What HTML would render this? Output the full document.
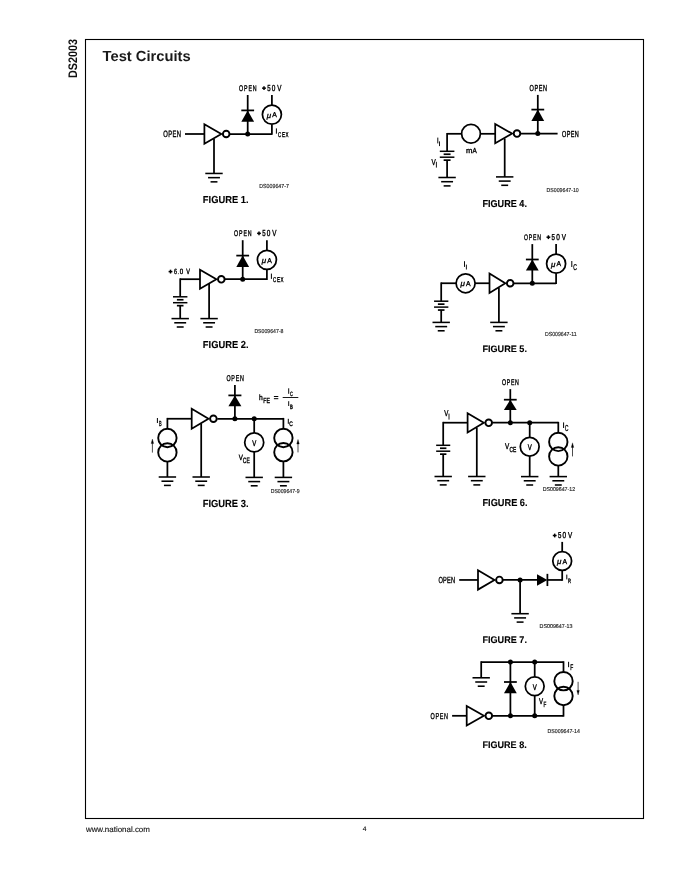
<!DOCTYPE html>
<html><head><meta charset="utf-8"><style>
html,body{margin:0;padding:0;background:#fff;}
svg{display:block;filter:grayscale(100%);}
text{font-family:"Liberation Sans",sans-serif;text-rendering:geometricPrecision;}
</style></head><body>
<svg width="680" height="880" viewBox="0 0 680 880" stroke="#000" fill="none">
<rect x="85.5" y="39.5" width="558" height="779" stroke-width="1.1"/>
<text x="0" y="0" transform="translate(76.5,78.0) rotate(-90)" font-size="12.4" font-weight="bold" fill="#111" stroke="none" textLength="39.0" lengthAdjust="spacingAndGlyphs">DS2003</text>
<text x="102.6" y="60.9" font-size="14.6" font-weight="bold" fill="#1a1a1a" stroke="none" textLength="88.1" lengthAdjust="spacingAndGlyphs">Test Circuits</text>
<text x="85.9" y="832.1" font-size="7.9" fill="#111" stroke="#111" stroke-width="0.12" textLength="64" lengthAdjust="spacingAndGlyphs">www.national.com</text>
<text x="362.8" y="831.0" font-size="6.6" fill="#111" stroke="#111" stroke-width="0.15">4</text>
<text transform="translate(163.19,136.81) scale(0.64,1)" x="0" y="0" font-size="9.16" font-weight="normal" fill="#000" textLength="27.84" lengthAdjust="spacing" stroke="#000" stroke-width="0.38">OPEN</text>
<line x1="185.00" y1="134.00" x2="204.40" y2="134.00" stroke-width="1.75"/>
<polygon points="204.40,124.35 221.30,134.00 204.40,143.65" stroke-width="1.75" stroke-linejoin="miter"/>
<circle cx="226.20" cy="134.00" r="3.30" fill="none" stroke-width="1.9"/>
<line x1="214.00" y1="139.00" x2="214.00" y2="173.45" stroke-width="1.75"/>
<line x1="205.30" y1="173.45" x2="222.70" y2="173.45" stroke-width="1.55"/>
<line x1="208.05" y1="177.65" x2="219.95" y2="177.65" stroke-width="1.55"/>
<line x1="210.55" y1="181.85" x2="217.45" y2="181.85" stroke-width="1.55"/>
<line x1="229.60" y1="134.00" x2="271.90" y2="134.00" stroke-width="1.75"/>
<line x1="271.90" y1="134.85" x2="271.90" y2="124.60" stroke-width="1.75"/>
<line x1="247.70" y1="95.00" x2="247.70" y2="134.00" stroke-width="1.75"/>
<line x1="241.30" y1="110.40" x2="254.10" y2="110.40" stroke-width="1.75"/>
<polygon points="247.70,110.40 241.30,121.80 254.10,121.80" fill="#000" stroke="none"/>
<circle cx="247.70" cy="134.00" r="2.50" fill="#000" stroke="none"/>
<circle cx="271.90" cy="114.60" r="9.50" fill="none" stroke-width="1.75"/>
<line x1="271.90" y1="95.00" x2="271.90" y2="105.10" stroke-width="1.75"/>
<text x="266.70" y="117.50" font-size="7.8" font-style="italic" fill="#000" stroke="#000" stroke-width="0.35" textLength="4.4" lengthAdjust="spacingAndGlyphs">&#956;</text>
<text x="272.28" y="117.33" font-size="7.19" font-weight="normal" fill="#000" text-anchor="start" textLength="4.55" lengthAdjust="spacingAndGlyphs" stroke="#000" stroke-width="0.35">A</text>
<text transform="translate(239.09,90.71) scale(0.64,1)" x="0" y="0" font-size="8.22" font-weight="normal" fill="#000" textLength="27.38" lengthAdjust="spacing" stroke="#000" stroke-width="0.38">OPEN</text>
<line x1="262.10" y1="88.15" x2="265.90" y2="88.15" stroke-width="1.5"/>
<line x1="264.00" y1="86.25" x2="264.00" y2="90.05" stroke-width="1.5"/>
<text x="267.20" y="90.70" font-size="8.76" font-weight="normal" fill="#000" text-anchor="start" textLength="3.40" lengthAdjust="spacingAndGlyphs" stroke="#000" stroke-width="0.4">5</text>
<text x="271.80" y="90.70" font-size="8.76" font-weight="normal" fill="#000" text-anchor="start" textLength="3.60" lengthAdjust="spacingAndGlyphs" stroke="#000" stroke-width="0.4">0</text>
<text x="277.30" y="90.70" font-size="8.76" font-weight="normal" fill="#000" text-anchor="start" textLength="4.20" lengthAdjust="spacingAndGlyphs" stroke="#000" stroke-width="0.4">V</text>
<line x1="276.40" y1="128.40" x2="276.40" y2="133.70" stroke-width="1.0"/>
<text transform="translate(278.09,136.71) scale(0.64,1)" x="0" y="0" font-size="6.97" font-weight="normal" fill="#000" textLength="16.12" lengthAdjust="spacing" stroke="#000" stroke-width="0.38">CEX</text>
<text x="259.27" y="188.03" font-size="5.88" font-weight="normal" fill="#222" text-anchor="start" textLength="29.65" lengthAdjust="spacingAndGlyphs" stroke="#222" stroke-width="0.15">DS009647-7</text>
<text x="202.86" y="203.14" font-size="10.19" font-weight="bold" fill="#000" text-anchor="start" textLength="45.78" lengthAdjust="spacingAndGlyphs" stroke="#000" stroke-width="0.12">FIGURE 1.</text>
<line x1="168.60" y1="271.60" x2="172.40" y2="271.60" stroke-width="1.5"/>
<line x1="170.50" y1="269.70" x2="170.50" y2="273.50" stroke-width="1.5"/>
<text x="174.00" y="274.40" font-size="7.67" font-weight="normal" fill="#000" text-anchor="start" textLength="3.00" lengthAdjust="spacingAndGlyphs" stroke="#000" stroke-width="0.4">6</text>
<text x="177.80" y="274.40" font-size="7.67" font-weight="normal" fill="#000" text-anchor="start" textLength="0.90" lengthAdjust="spacingAndGlyphs" stroke="#000" stroke-width="0.4">.</text>
<text x="179.80" y="274.40" font-size="7.67" font-weight="normal" fill="#000" text-anchor="start" textLength="3.40" lengthAdjust="spacingAndGlyphs" stroke="#000" stroke-width="0.4">0</text>
<text x="186.30" y="274.40" font-size="7.67" font-weight="normal" fill="#000" text-anchor="start" textLength="3.70" lengthAdjust="spacingAndGlyphs" stroke="#000" stroke-width="0.4">V</text>
<line x1="180.20" y1="279.20" x2="200.00" y2="279.20" stroke-width="1.75"/>
<line x1="180.20" y1="278.35" x2="180.20" y2="296.80" stroke-width="1.75"/>
<line x1="173.00" y1="296.80" x2="187.40" y2="296.80" stroke-width="1.5"/>
<line x1="176.90" y1="299.75" x2="183.50" y2="299.75" stroke-width="1.7"/>
<line x1="173.00" y1="302.70" x2="187.40" y2="302.70" stroke-width="1.5"/>
<line x1="176.90" y1="305.65" x2="183.50" y2="305.65" stroke-width="1.7"/>
<line x1="180.20" y1="305.65" x2="180.20" y2="318.60" stroke-width="1.75"/>
<line x1="171.50" y1="318.60" x2="188.90" y2="318.60" stroke-width="1.55"/>
<line x1="174.25" y1="322.80" x2="186.15" y2="322.80" stroke-width="1.55"/>
<line x1="176.75" y1="327.00" x2="183.65" y2="327.00" stroke-width="1.55"/>
<polygon points="200.00,269.85 216.40,279.30 200.00,288.75" stroke-width="1.75" stroke-linejoin="miter"/>
<circle cx="221.30" cy="279.30" r="3.30" fill="none" stroke-width="1.9"/>
<line x1="209.10" y1="284.00" x2="209.10" y2="318.60" stroke-width="1.75"/>
<line x1="200.40" y1="318.60" x2="217.80" y2="318.60" stroke-width="1.55"/>
<line x1="203.15" y1="322.80" x2="215.05" y2="322.80" stroke-width="1.55"/>
<line x1="205.65" y1="327.00" x2="212.55" y2="327.00" stroke-width="1.55"/>
<line x1="224.60" y1="279.20" x2="266.90" y2="279.20" stroke-width="1.75"/>
<line x1="266.90" y1="280.05" x2="266.90" y2="269.80" stroke-width="1.75"/>
<line x1="242.70" y1="240.20" x2="242.70" y2="279.20" stroke-width="1.75"/>
<line x1="236.30" y1="255.60" x2="249.10" y2="255.60" stroke-width="1.75"/>
<polygon points="242.70,255.60 236.30,267.00 249.10,267.00" fill="#000" stroke="none"/>
<circle cx="242.70" cy="279.20" r="2.50" fill="#000" stroke="none"/>
<circle cx="266.90" cy="259.80" r="9.50" fill="none" stroke-width="1.75"/>
<line x1="266.90" y1="240.20" x2="266.90" y2="250.30" stroke-width="1.75"/>
<text x="261.70" y="262.70" font-size="7.8" font-style="italic" fill="#000" stroke="#000" stroke-width="0.35" textLength="4.4" lengthAdjust="spacingAndGlyphs">&#956;</text>
<text x="267.28" y="262.52" font-size="7.19" font-weight="normal" fill="#000" text-anchor="start" textLength="4.55" lengthAdjust="spacingAndGlyphs" stroke="#000" stroke-width="0.35">A</text>
<text transform="translate(234.09,235.91) scale(0.64,1)" x="0" y="0" font-size="8.22" font-weight="normal" fill="#000" textLength="27.38" lengthAdjust="spacing" stroke="#000" stroke-width="0.38">OPEN</text>
<line x1="257.10" y1="233.35" x2="260.90" y2="233.35" stroke-width="1.5"/>
<line x1="259.00" y1="231.45" x2="259.00" y2="235.25" stroke-width="1.5"/>
<text x="262.20" y="235.90" font-size="8.76" font-weight="normal" fill="#000" text-anchor="start" textLength="3.40" lengthAdjust="spacingAndGlyphs" stroke="#000" stroke-width="0.4">5</text>
<text x="266.80" y="235.90" font-size="8.76" font-weight="normal" fill="#000" text-anchor="start" textLength="3.60" lengthAdjust="spacingAndGlyphs" stroke="#000" stroke-width="0.4">0</text>
<text x="272.30" y="235.90" font-size="8.76" font-weight="normal" fill="#000" text-anchor="start" textLength="4.20" lengthAdjust="spacingAndGlyphs" stroke="#000" stroke-width="0.4">V</text>
<line x1="271.40" y1="273.60" x2="271.40" y2="278.90" stroke-width="1.0"/>
<text transform="translate(273.09,281.91) scale(0.64,1)" x="0" y="0" font-size="6.97" font-weight="normal" fill="#000" textLength="16.12" lengthAdjust="spacing" stroke="#000" stroke-width="0.38">CEX</text>
<text x="254.38" y="332.62" font-size="5.73" font-weight="normal" fill="#222" text-anchor="start" textLength="29.05" lengthAdjust="spacingAndGlyphs" stroke="#222" stroke-width="0.15">DS009647-8</text>
<text x="202.86" y="347.94" font-size="10.19" font-weight="bold" fill="#000" text-anchor="start" textLength="45.78" lengthAdjust="spacingAndGlyphs" stroke="#000" stroke-width="0.12">FIGURE 2.</text>
<line x1="167.40" y1="418.75" x2="191.70" y2="418.75" stroke-width="1.75"/>
<line x1="167.40" y1="417.90" x2="167.40" y2="428.60" stroke-width="1.75"/>
<circle cx="167.40" cy="438.00" r="9.20" fill="none" stroke-width="1.9"/>
<circle cx="167.40" cy="452.40" r="9.20" fill="none" stroke-width="1.9"/>
<line x1="167.40" y1="461.60" x2="167.40" y2="477.00" stroke-width="1.75"/>
<line x1="158.70" y1="477.00" x2="176.10" y2="477.00" stroke-width="1.55"/>
<line x1="161.45" y1="481.20" x2="173.35" y2="481.20" stroke-width="1.55"/>
<line x1="163.95" y1="485.40" x2="170.85" y2="485.40" stroke-width="1.55"/>
<line x1="152.40" y1="442.00" x2="152.40" y2="452.60" stroke-width="0.7"/>
<polygon points="152.40,439.00 151.15,443.60 153.65,443.60" fill="#000" stroke="#000" stroke-width="0.3"/>
<line x1="157.40" y1="418.00" x2="157.40" y2="423.00" stroke-width="1.0"/>
<text x="158.89" y="426.21" font-size="7.25" font-weight="normal" fill="#000" text-anchor="start" textLength="2.62" lengthAdjust="spacingAndGlyphs" stroke="#000" stroke-width="0.38">B</text>
<polygon points="191.70,408.85 208.50,418.75 191.70,428.65" stroke-width="1.75" stroke-linejoin="miter"/>
<circle cx="213.40" cy="418.75" r="3.30" fill="none" stroke-width="1.9"/>
<line x1="201.20" y1="423.50" x2="201.20" y2="477.00" stroke-width="1.75"/>
<line x1="192.50" y1="477.00" x2="209.90" y2="477.00" stroke-width="1.55"/>
<line x1="195.25" y1="481.20" x2="207.15" y2="481.20" stroke-width="1.55"/>
<line x1="197.75" y1="485.40" x2="204.65" y2="485.40" stroke-width="1.55"/>
<line x1="217.30" y1="418.75" x2="283.40" y2="418.75" stroke-width="1.75"/>
<line x1="283.40" y1="417.90" x2="283.40" y2="428.60" stroke-width="1.75"/>
<line x1="234.90" y1="384.90" x2="234.90" y2="418.75" stroke-width="1.75"/>
<line x1="228.40" y1="395.40" x2="241.40" y2="395.40" stroke-width="1.75"/>
<polygon points="234.90,395.40 228.40,406.30 241.40,406.30" fill="#000" stroke="none"/>
<text transform="translate(226.39,380.71) scale(0.64,1)" x="0" y="0" font-size="8.38" font-weight="normal" fill="#000" textLength="27.38" lengthAdjust="spacing" stroke="#000" stroke-width="0.38">OPEN</text>
<circle cx="234.90" cy="418.75" r="2.50" fill="#000" stroke="none"/>
<circle cx="254.20" cy="418.75" r="2.50" fill="#000" stroke="none"/>
<line x1="254.20" y1="418.75" x2="254.20" y2="432.90" stroke-width="1.75"/>
<circle cx="254.20" cy="442.40" r="9.50" fill="none" stroke-width="1.75"/>
<text x="252.29" y="445.81" font-size="8.22" font-weight="normal" fill="#000" text-anchor="start" textLength="4.02" lengthAdjust="spacingAndGlyphs" stroke="#000" stroke-width="0.38">V</text>
<line x1="254.20" y1="451.90" x2="254.20" y2="477.40" stroke-width="1.75"/>
<line x1="245.50" y1="477.40" x2="262.90" y2="477.40" stroke-width="1.55"/>
<line x1="248.25" y1="481.60" x2="260.15" y2="481.60" stroke-width="1.55"/>
<line x1="250.75" y1="485.80" x2="257.65" y2="485.80" stroke-width="1.55"/>
<text x="238.69" y="459.71" font-size="7.76" font-weight="normal" fill="#000" text-anchor="start" textLength="4.12" lengthAdjust="spacingAndGlyphs" stroke="#000" stroke-width="0.38">V</text>
<text x="242.79" y="462.51" font-size="7.60" font-weight="normal" fill="#000" text-anchor="start" textLength="7.02" lengthAdjust="spacingAndGlyphs" stroke="#000" stroke-width="0.38">CE</text>
<circle cx="283.40" cy="438.00" r="9.20" fill="none" stroke-width="1.9"/>
<circle cx="283.40" cy="452.20" r="9.20" fill="none" stroke-width="1.9"/>
<line x1="283.40" y1="461.40" x2="283.40" y2="477.40" stroke-width="1.75"/>
<line x1="274.70" y1="477.40" x2="292.10" y2="477.40" stroke-width="1.55"/>
<line x1="277.45" y1="481.60" x2="289.35" y2="481.60" stroke-width="1.55"/>
<line x1="279.95" y1="485.80" x2="286.85" y2="485.80" stroke-width="1.55"/>
<line x1="298.00" y1="442.40" x2="298.00" y2="452.40" stroke-width="0.7"/>
<polygon points="298.00,439.40 296.75,444.00 299.25,444.00" fill="#000" stroke="#000" stroke-width="0.3"/>
<line x1="288.30" y1="418.80" x2="288.30" y2="423.80" stroke-width="1.0"/>
<text x="289.29" y="426.31" font-size="6.51" font-weight="normal" fill="#000" text-anchor="start" textLength="3.52" lengthAdjust="spacingAndGlyphs" stroke="#000" stroke-width="0.38">C</text>
<text x="258.89" y="399.71" font-size="7.58" font-weight="normal" fill="#000" text-anchor="start" textLength="3.72" lengthAdjust="spacingAndGlyphs" stroke="#000" stroke-width="0.38">h</text>
<text x="263.29" y="402.71" font-size="7.44" font-weight="normal" fill="#000" text-anchor="start" textLength="6.72" lengthAdjust="spacingAndGlyphs" stroke="#000" stroke-width="0.38">FE</text>
<line x1="273.90" y1="396.50" x2="278.30" y2="396.50" stroke-width="1.0"/>
<line x1="273.90" y1="398.70" x2="278.30" y2="398.70" stroke-width="1.0"/>
<line x1="282.70" y1="397.50" x2="298.30" y2="397.50" stroke-width="0.9"/>
<line x1="288.70" y1="388.30" x2="288.70" y2="393.80" stroke-width="0.95"/>
<text x="289.99" y="395.61" font-size="6.18" font-weight="normal" fill="#000" text-anchor="start" textLength="2.82" lengthAdjust="spacingAndGlyphs" stroke="#000" stroke-width="0.38">C</text>
<line x1="288.70" y1="401.20" x2="288.70" y2="406.00" stroke-width="0.95"/>
<text x="289.99" y="408.81" font-size="6.18" font-weight="normal" fill="#000" text-anchor="start" textLength="2.82" lengthAdjust="spacingAndGlyphs" stroke="#000" stroke-width="0.38">B</text>
<text x="270.68" y="493.03" font-size="5.73" font-weight="normal" fill="#222" text-anchor="start" textLength="28.95" lengthAdjust="spacingAndGlyphs" stroke="#222" stroke-width="0.15">DS009647-9</text>
<text x="202.66" y="506.54" font-size="10.34" font-weight="bold" fill="#000" text-anchor="start" textLength="45.88" lengthAdjust="spacingAndGlyphs" stroke="#000" stroke-width="0.12">FIGURE 3.</text>
<line x1="447.10" y1="133.80" x2="461.70" y2="133.80" stroke-width="1.75"/>
<line x1="447.10" y1="132.95" x2="447.10" y2="151.30" stroke-width="1.75"/>
<line x1="439.80" y1="151.30" x2="454.40" y2="151.30" stroke-width="1.5"/>
<line x1="443.65" y1="154.25" x2="450.55" y2="154.25" stroke-width="1.7"/>
<line x1="439.80" y1="157.20" x2="454.40" y2="157.20" stroke-width="1.5"/>
<line x1="443.65" y1="160.15" x2="450.55" y2="160.15" stroke-width="1.7"/>
<line x1="447.10" y1="160.15" x2="447.10" y2="177.50" stroke-width="1.75"/>
<line x1="438.40" y1="177.50" x2="455.80" y2="177.50" stroke-width="1.55"/>
<line x1="441.15" y1="181.70" x2="453.05" y2="181.70" stroke-width="1.55"/>
<line x1="443.65" y1="185.90" x2="450.55" y2="185.90" stroke-width="1.55"/>
<circle cx="471.00" cy="133.80" r="9.40" fill="none" stroke-width="1.75"/>
<line x1="480.40" y1="133.80" x2="495.20" y2="133.80" stroke-width="1.75"/>
<text x="465.9" y="152.7" font-size="7.4" fill="#000" stroke="#000" stroke-width="0.35" textLength="6.4" lengthAdjust="spacingAndGlyphs">m</text>
<text x="472.59" y="152.61" font-size="7.30" font-weight="normal" fill="#000" text-anchor="start" textLength="4.22" lengthAdjust="spacingAndGlyphs" stroke="#000" stroke-width="0.38">A</text>
<line x1="437.80" y1="137.60" x2="437.80" y2="143.40" stroke-width="0.95"/>
<line x1="439.50" y1="141.40" x2="439.50" y2="146.10" stroke-width="0.9"/>
<text x="431.39" y="164.51" font-size="8.38" font-weight="normal" fill="#000" text-anchor="start" textLength="4.22" lengthAdjust="spacingAndGlyphs" stroke="#000" stroke-width="0.38">V</text>
<line x1="436.40" y1="161.80" x2="436.40" y2="167.60" stroke-width="0.9"/>
<polygon points="495.20,123.95 512.10,133.60 495.20,143.25" stroke-width="1.75" stroke-linejoin="miter"/>
<circle cx="517.00" cy="133.60" r="3.30" fill="none" stroke-width="1.9"/>
<line x1="504.70" y1="138.50" x2="504.70" y2="176.90" stroke-width="1.75"/>
<line x1="496.00" y1="176.90" x2="513.40" y2="176.90" stroke-width="1.55"/>
<line x1="498.75" y1="181.10" x2="510.65" y2="181.10" stroke-width="1.55"/>
<line x1="501.25" y1="185.30" x2="508.15" y2="185.30" stroke-width="1.55"/>
<line x1="520.40" y1="133.60" x2="557.60" y2="133.60" stroke-width="1.75"/>
<line x1="537.80" y1="94.90" x2="537.80" y2="133.60" stroke-width="1.75"/>
<line x1="531.40" y1="109.60" x2="544.20" y2="109.60" stroke-width="1.75"/>
<polygon points="537.80,109.60 531.40,121.00 544.20,121.00" fill="#000" stroke="none"/>
<circle cx="537.80" cy="133.60" r="2.50" fill="#000" stroke="none"/>
<text transform="translate(529.59,91.01) scale(0.64,1)" x="0" y="0" font-size="8.69" font-weight="normal" fill="#000" textLength="27.06" lengthAdjust="spacing" stroke="#000" stroke-width="0.38">OPEN</text>
<text transform="translate(561.99,136.61) scale(0.64,1)" x="0" y="0" font-size="8.69" font-weight="normal" fill="#000" textLength="26.28" lengthAdjust="spacing" stroke="#000" stroke-width="0.38">OPEN</text>
<text x="546.58" y="192.03" font-size="5.73" font-weight="normal" fill="#222" text-anchor="start" textLength="32.15" lengthAdjust="spacingAndGlyphs" stroke="#222" stroke-width="0.15">DS009647-10</text>
<text x="482.46" y="206.74" font-size="10.04" font-weight="bold" fill="#000" text-anchor="start" textLength="44.48" lengthAdjust="spacingAndGlyphs" stroke="#000" stroke-width="0.12">FIGURE 4.</text>
<line x1="441.20" y1="283.25" x2="456.20" y2="283.25" stroke-width="1.75"/>
<line x1="441.20" y1="282.40" x2="441.20" y2="301.20" stroke-width="1.75"/>
<line x1="434.05" y1="301.20" x2="448.35" y2="301.20" stroke-width="1.5"/>
<line x1="437.90" y1="304.15" x2="444.50" y2="304.15" stroke-width="1.7"/>
<line x1="434.05" y1="307.10" x2="448.35" y2="307.10" stroke-width="1.5"/>
<line x1="437.90" y1="310.05" x2="444.50" y2="310.05" stroke-width="1.7"/>
<line x1="441.20" y1="310.05" x2="441.20" y2="322.40" stroke-width="1.75"/>
<line x1="432.50" y1="322.40" x2="449.90" y2="322.40" stroke-width="1.55"/>
<line x1="435.25" y1="326.60" x2="447.15" y2="326.60" stroke-width="1.55"/>
<line x1="437.75" y1="330.80" x2="444.65" y2="330.80" stroke-width="1.55"/>
<circle cx="465.60" cy="283.25" r="9.50" fill="none" stroke-width="1.75"/>
<text x="460.40" y="286.15" font-size="7.8" font-style="italic" fill="#000" stroke="#000" stroke-width="0.35" textLength="4.4" lengthAdjust="spacingAndGlyphs">&#956;</text>
<text x="465.98" y="285.97" font-size="7.19" font-weight="normal" fill="#000" text-anchor="start" textLength="4.55" lengthAdjust="spacingAndGlyphs" stroke="#000" stroke-width="0.35">A</text>
<line x1="475.10" y1="283.25" x2="489.50" y2="283.25" stroke-width="1.75"/>
<line x1="464.50" y1="261.20" x2="464.50" y2="266.90" stroke-width="0.95"/>
<line x1="466.40" y1="264.60" x2="466.40" y2="269.50" stroke-width="0.9"/>
<polygon points="489.50,273.60 505.30,283.25 489.50,292.90" stroke-width="1.75" stroke-linejoin="miter"/>
<circle cx="510.20" cy="283.25" r="3.30" fill="none" stroke-width="1.9"/>
<line x1="498.90" y1="288.00" x2="498.90" y2="322.40" stroke-width="1.75"/>
<line x1="490.20" y1="322.40" x2="507.60" y2="322.40" stroke-width="1.55"/>
<line x1="492.95" y1="326.60" x2="504.85" y2="326.60" stroke-width="1.55"/>
<line x1="495.45" y1="330.80" x2="502.35" y2="330.80" stroke-width="1.55"/>
<line x1="513.60" y1="283.25" x2="556.10" y2="283.25" stroke-width="1.75"/>
<line x1="556.10" y1="284.10" x2="556.10" y2="273.30" stroke-width="1.75"/>
<line x1="532.30" y1="244.10" x2="532.30" y2="283.25" stroke-width="1.75"/>
<line x1="525.90" y1="259.50" x2="538.70" y2="259.50" stroke-width="1.75"/>
<polygon points="532.30,259.50 525.90,270.60 538.70,270.60" fill="#000" stroke="none"/>
<circle cx="532.30" cy="283.25" r="2.50" fill="#000" stroke="none"/>
<circle cx="556.10" cy="263.70" r="9.50" fill="none" stroke-width="1.75"/>
<text x="550.90" y="266.60" font-size="7.8" font-style="italic" fill="#000" stroke="#000" stroke-width="0.35" textLength="4.4" lengthAdjust="spacingAndGlyphs">&#956;</text>
<text x="556.48" y="266.42" font-size="7.19" font-weight="normal" fill="#000" text-anchor="start" textLength="4.55" lengthAdjust="spacingAndGlyphs" stroke="#000" stroke-width="0.35">A</text>
<line x1="556.10" y1="244.10" x2="556.10" y2="254.20" stroke-width="1.75"/>
<text transform="translate(524.09,239.71) scale(0.64,1)" x="0" y="0" font-size="8.07" font-weight="normal" fill="#000" textLength="26.28" lengthAdjust="spacing" stroke="#000" stroke-width="0.38">OPEN</text>
<line x1="546.50" y1="237.20" x2="550.30" y2="237.20" stroke-width="1.5"/>
<line x1="548.40" y1="235.30" x2="548.40" y2="239.10" stroke-width="1.5"/>
<text x="551.60" y="239.70" font-size="8.59" font-weight="normal" fill="#000" text-anchor="start" textLength="3.40" lengthAdjust="spacingAndGlyphs" stroke="#000" stroke-width="0.4">5</text>
<text x="556.20" y="239.70" font-size="8.59" font-weight="normal" fill="#000" text-anchor="start" textLength="3.60" lengthAdjust="spacingAndGlyphs" stroke="#000" stroke-width="0.4">0</text>
<text x="561.70" y="239.70" font-size="8.59" font-weight="normal" fill="#000" text-anchor="start" textLength="4.20" lengthAdjust="spacingAndGlyphs" stroke="#000" stroke-width="0.4">V</text>
<line x1="571.80" y1="261.00" x2="571.80" y2="267.00" stroke-width="1.0"/>
<text x="573.19" y="269.81" font-size="8.38" font-weight="normal" fill="#000" text-anchor="start" textLength="3.62" lengthAdjust="spacingAndGlyphs" stroke="#000" stroke-width="0.38">C</text>
<text x="544.98" y="336.12" font-size="5.88" font-weight="normal" fill="#222" text-anchor="start" textLength="31.65" lengthAdjust="spacingAndGlyphs" stroke="#222" stroke-width="0.15">DS009647-11</text>
<text x="482.46" y="351.64" font-size="9.29" font-weight="bold" fill="#000" text-anchor="start" textLength="44.48" lengthAdjust="spacingAndGlyphs" stroke="#000" stroke-width="0.12">FIGURE 5.</text>
<line x1="443.20" y1="422.70" x2="467.60" y2="422.70" stroke-width="1.75"/>
<line x1="443.20" y1="421.85" x2="443.20" y2="445.30" stroke-width="1.75"/>
<line x1="436.15" y1="445.30" x2="450.25" y2="445.30" stroke-width="1.5"/>
<line x1="440.00" y1="448.25" x2="446.40" y2="448.25" stroke-width="1.7"/>
<line x1="436.15" y1="451.20" x2="450.25" y2="451.20" stroke-width="1.5"/>
<line x1="440.00" y1="454.15" x2="446.40" y2="454.15" stroke-width="1.7"/>
<line x1="443.20" y1="454.15" x2="443.20" y2="476.50" stroke-width="1.75"/>
<line x1="434.50" y1="476.50" x2="451.90" y2="476.50" stroke-width="1.55"/>
<line x1="437.25" y1="480.70" x2="449.15" y2="480.70" stroke-width="1.55"/>
<line x1="439.75" y1="484.90" x2="446.65" y2="484.90" stroke-width="1.55"/>
<text x="444.29" y="416.21" font-size="8.38" font-weight="normal" fill="#000" text-anchor="start" textLength="4.12" lengthAdjust="spacingAndGlyphs" stroke="#000" stroke-width="0.38">V</text>
<line x1="449.00" y1="413.60" x2="449.00" y2="419.60" stroke-width="0.9"/>
<polygon points="467.60,413.20 483.80,422.80 467.60,432.40" stroke-width="1.75" stroke-linejoin="miter"/>
<circle cx="488.70" cy="422.80" r="3.30" fill="none" stroke-width="1.9"/>
<line x1="476.80" y1="427.50" x2="476.80" y2="476.50" stroke-width="1.75"/>
<line x1="468.10" y1="476.50" x2="485.50" y2="476.50" stroke-width="1.55"/>
<line x1="470.85" y1="480.70" x2="482.75" y2="480.70" stroke-width="1.55"/>
<line x1="473.35" y1="484.90" x2="480.25" y2="484.90" stroke-width="1.55"/>
<line x1="492.20" y1="422.70" x2="558.30" y2="422.70" stroke-width="1.75"/>
<line x1="558.30" y1="421.85" x2="558.30" y2="432.60" stroke-width="1.75"/>
<line x1="510.30" y1="389.10" x2="510.30" y2="422.70" stroke-width="1.75"/>
<line x1="503.90" y1="399.70" x2="516.70" y2="399.70" stroke-width="1.75"/>
<polygon points="510.30,399.70 503.90,410.00 516.70,410.00" fill="#000" stroke="none"/>
<text transform="translate(501.99,384.81) scale(0.64,1)" x="0" y="0" font-size="8.22" font-weight="normal" fill="#000" textLength="26.44" lengthAdjust="spacing" stroke="#000" stroke-width="0.38">OPEN</text>
<circle cx="510.30" cy="422.70" r="2.50" fill="#000" stroke="none"/>
<circle cx="529.70" cy="422.70" r="2.50" fill="#000" stroke="none"/>
<line x1="529.70" y1="422.70" x2="529.70" y2="437.30" stroke-width="1.75"/>
<circle cx="529.70" cy="446.70" r="9.40" fill="none" stroke-width="1.75"/>
<text x="527.79" y="450.11" font-size="8.22" font-weight="normal" fill="#000" text-anchor="start" textLength="4.02" lengthAdjust="spacingAndGlyphs" stroke="#000" stroke-width="0.38">V</text>
<line x1="529.70" y1="456.10" x2="529.70" y2="476.60" stroke-width="1.75"/>
<line x1="521.00" y1="476.60" x2="538.40" y2="476.60" stroke-width="1.55"/>
<line x1="523.75" y1="480.80" x2="535.65" y2="480.80" stroke-width="1.55"/>
<line x1="526.25" y1="485.00" x2="533.15" y2="485.00" stroke-width="1.55"/>
<text x="504.89" y="449.41" font-size="8.53" font-weight="normal" fill="#000" text-anchor="start" textLength="4.22" lengthAdjust="spacingAndGlyphs" stroke="#000" stroke-width="0.38">V</text>
<text x="509.49" y="451.81" font-size="7.28" font-weight="normal" fill="#000" text-anchor="start" textLength="6.82" lengthAdjust="spacingAndGlyphs" stroke="#000" stroke-width="0.38">CE</text>
<circle cx="558.30" cy="441.90" r="9.20" fill="none" stroke-width="1.9"/>
<circle cx="558.30" cy="456.40" r="9.20" fill="none" stroke-width="1.9"/>
<line x1="558.30" y1="465.60" x2="558.30" y2="476.60" stroke-width="1.75"/>
<line x1="549.60" y1="476.60" x2="567.00" y2="476.60" stroke-width="1.55"/>
<line x1="552.35" y1="480.80" x2="564.25" y2="480.80" stroke-width="1.55"/>
<line x1="554.85" y1="485.00" x2="561.75" y2="485.00" stroke-width="1.55"/>
<line x1="572.50" y1="445.80" x2="572.50" y2="456.40" stroke-width="0.7"/>
<polygon points="572.50,442.80 571.25,447.40 573.75,447.40" fill="#000" stroke="#000" stroke-width="0.3"/>
<line x1="563.60" y1="422.40" x2="563.60" y2="428.00" stroke-width="1.0"/>
<text x="564.99" y="430.81" font-size="8.69" font-weight="normal" fill="#000" text-anchor="start" textLength="3.42" lengthAdjust="spacingAndGlyphs" stroke="#000" stroke-width="0.38">C</text>
<text x="542.68" y="490.82" font-size="5.58" font-weight="normal" fill="#222" text-anchor="start" textLength="32.45" lengthAdjust="spacingAndGlyphs" stroke="#222" stroke-width="0.15">DS009647-12</text>
<text x="482.46" y="505.54" font-size="10.19" font-weight="bold" fill="#000" text-anchor="start" textLength="45.08" lengthAdjust="spacingAndGlyphs" stroke="#000" stroke-width="0.12">FIGURE 6.</text>
<text transform="translate(438.39,582.71) scale(0.64,1)" x="0" y="0" font-size="8.85" font-weight="normal" fill="#000" textLength="26.13" lengthAdjust="spacing" stroke="#000" stroke-width="0.38">OPEN</text>
<line x1="459.20" y1="579.95" x2="478.00" y2="579.95" stroke-width="1.75"/>
<polygon points="478.00,570.30 494.50,579.95 478.00,589.60" stroke-width="1.75" stroke-linejoin="miter"/>
<circle cx="499.40" cy="579.95" r="3.30" fill="none" stroke-width="1.9"/>
<line x1="502.90" y1="579.95" x2="537.30" y2="579.95" stroke-width="1.75"/>
<circle cx="520.10" cy="579.95" r="2.50" fill="#000" stroke="none"/>
<line x1="520.10" y1="579.95" x2="520.10" y2="613.70" stroke-width="1.75"/>
<line x1="511.40" y1="613.70" x2="528.80" y2="613.70" stroke-width="1.55"/>
<line x1="514.15" y1="617.90" x2="526.05" y2="617.90" stroke-width="1.55"/>
<line x1="516.65" y1="622.10" x2="523.55" y2="622.10" stroke-width="1.55"/>
<line x1="547.40" y1="573.85" x2="547.40" y2="586.05" stroke-width="1.75"/>
<polygon points="547.40,579.95 537.00,574.15 537.00,585.75" fill="#000" stroke="none"/>
<line x1="547.40" y1="579.95" x2="562.20" y2="579.95" stroke-width="1.75"/>
<line x1="562.20" y1="580.80" x2="562.20" y2="570.50" stroke-width="1.75"/>
<circle cx="562.20" cy="561.00" r="9.40" fill="none" stroke-width="1.75"/>
<text x="557.00" y="563.90" font-size="7.8" font-style="italic" fill="#000" stroke="#000" stroke-width="0.35" textLength="4.4" lengthAdjust="spacingAndGlyphs">&#956;</text>
<text x="562.57" y="563.73" font-size="7.19" font-weight="normal" fill="#000" text-anchor="start" textLength="4.55" lengthAdjust="spacingAndGlyphs" stroke="#000" stroke-width="0.35">A</text>
<line x1="562.20" y1="541.90" x2="562.20" y2="551.60" stroke-width="1.75"/>
<line x1="552.80" y1="535.50" x2="556.60" y2="535.50" stroke-width="1.5"/>
<line x1="554.70" y1="533.60" x2="554.70" y2="537.40" stroke-width="1.5"/>
<text x="557.90" y="538.00" font-size="8.59" font-weight="normal" fill="#000" text-anchor="start" textLength="3.40" lengthAdjust="spacingAndGlyphs" stroke="#000" stroke-width="0.4">5</text>
<text x="562.50" y="538.00" font-size="8.59" font-weight="normal" fill="#000" text-anchor="start" textLength="3.60" lengthAdjust="spacingAndGlyphs" stroke="#000" stroke-width="0.4">0</text>
<text x="568.00" y="538.00" font-size="8.59" font-weight="normal" fill="#000" text-anchor="start" textLength="4.20" lengthAdjust="spacingAndGlyphs" stroke="#000" stroke-width="0.4">V</text>
<line x1="566.80" y1="574.60" x2="566.80" y2="579.40" stroke-width="1.0"/>
<text x="568.09" y="582.81" font-size="6.22" font-weight="normal" fill="#000" text-anchor="start" textLength="3.02" lengthAdjust="spacingAndGlyphs" stroke="#000" stroke-width="0.38">R</text>
<text x="539.58" y="628.12" font-size="5.58" font-weight="normal" fill="#222" text-anchor="start" textLength="32.85" lengthAdjust="spacingAndGlyphs" stroke="#222" stroke-width="0.15">DS009647-13</text>
<text x="482.46" y="642.74" font-size="9.74" font-weight="bold" fill="#000" text-anchor="start" textLength="44.48" lengthAdjust="spacingAndGlyphs" stroke="#000" stroke-width="0.12">FIGURE 7.</text>
<line x1="481.20" y1="662.10" x2="563.50" y2="662.10" stroke-width="1.75"/>
<line x1="481.20" y1="661.25" x2="481.20" y2="677.80" stroke-width="1.75"/>
<line x1="472.50" y1="677.80" x2="489.90" y2="677.80" stroke-width="1.55"/>
<line x1="475.25" y1="682.00" x2="487.15" y2="682.00" stroke-width="1.55"/>
<line x1="477.75" y1="686.20" x2="484.65" y2="686.20" stroke-width="1.55"/>
<circle cx="510.40" cy="662.10" r="2.50" fill="#000" stroke="none"/>
<circle cx="534.70" cy="662.10" r="2.50" fill="#000" stroke="none"/>
<circle cx="510.40" cy="715.80" r="2.50" fill="#000" stroke="none"/>
<circle cx="534.70" cy="715.80" r="2.50" fill="#000" stroke="none"/>
<line x1="510.40" y1="662.10" x2="510.40" y2="715.80" stroke-width="1.75"/>
<line x1="504.00" y1="682.00" x2="516.80" y2="682.00" stroke-width="1.75"/>
<polygon points="510.40,682.00 504.00,693.20 516.80,693.20" fill="#000" stroke="none"/>
<line x1="534.70" y1="662.10" x2="534.70" y2="676.80" stroke-width="1.75"/>
<circle cx="534.70" cy="686.30" r="9.40" fill="none" stroke-width="1.75"/>
<text x="532.79" y="689.71" font-size="8.22" font-weight="normal" fill="#000" text-anchor="start" textLength="4.02" lengthAdjust="spacingAndGlyphs" stroke="#000" stroke-width="0.38">V</text>
<line x1="534.70" y1="695.80" x2="534.70" y2="715.80" stroke-width="1.75"/>
<text x="538.89" y="704.01" font-size="8.53" font-weight="normal" fill="#000" text-anchor="start" textLength="4.12" lengthAdjust="spacingAndGlyphs" stroke="#000" stroke-width="0.38">V</text>
<text x="543.59" y="707.01" font-size="7.75" font-weight="normal" fill="#000" text-anchor="start" textLength="2.82" lengthAdjust="spacingAndGlyphs" stroke="#000" stroke-width="0.38">F</text>
<line x1="563.50" y1="661.25" x2="563.50" y2="671.80" stroke-width="1.75"/>
<circle cx="563.50" cy="681.20" r="9.20" fill="none" stroke-width="1.9"/>
<circle cx="563.50" cy="696.00" r="9.20" fill="none" stroke-width="1.9"/>
<line x1="563.50" y1="705.20" x2="563.50" y2="716.65" stroke-width="1.75"/>
<line x1="568.60" y1="661.80" x2="568.60" y2="667.20" stroke-width="1.0"/>
<text x="570.19" y="669.81" font-size="8.07" font-weight="normal" fill="#000" text-anchor="start" textLength="3.02" lengthAdjust="spacingAndGlyphs" stroke="#000" stroke-width="0.38">F</text>
<line x1="578.10" y1="692.00" x2="578.10" y2="681.80" stroke-width="0.7"/>
<polygon points="578.10,695.00 576.85,690.40 579.35,690.40" fill="#000" stroke="#000" stroke-width="0.3"/>
<text transform="translate(430.49,718.51) scale(0.64,1)" x="0" y="0" font-size="8.54" font-weight="normal" fill="#000" textLength="27.38" lengthAdjust="spacing" stroke="#000" stroke-width="0.38">OPEN</text>
<line x1="452.10" y1="715.80" x2="466.70" y2="715.80" stroke-width="1.75"/>
<polygon points="466.70,706.00 483.90,715.80 466.70,725.60" stroke-width="1.75" stroke-linejoin="miter"/>
<circle cx="488.80" cy="715.80" r="3.30" fill="none" stroke-width="1.9"/>
<line x1="492.30" y1="715.80" x2="563.50" y2="715.80" stroke-width="1.75"/>
<text x="547.58" y="733.12" font-size="5.73" font-weight="normal" fill="#222" text-anchor="start" textLength="32.35" lengthAdjust="spacingAndGlyphs" stroke="#222" stroke-width="0.15">DS009647-14</text>
<text x="482.46" y="747.74" font-size="9.59" font-weight="bold" fill="#000" text-anchor="start" textLength="44.28" lengthAdjust="spacingAndGlyphs" stroke="#000" stroke-width="0.12">FIGURE 8.</text>
</svg>
</body></html>
